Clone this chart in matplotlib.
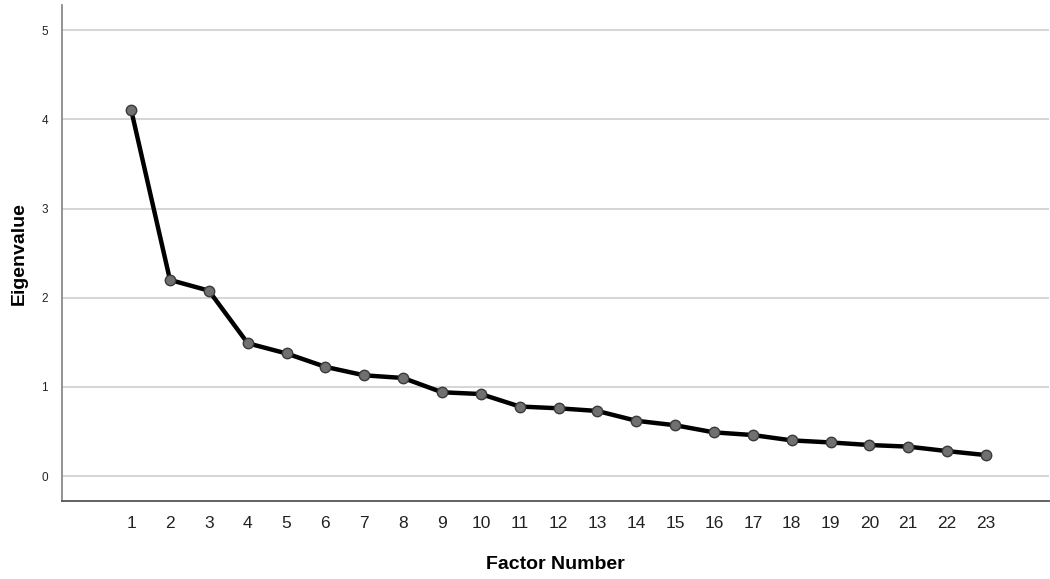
import matplotlib
matplotlib.use('Agg')
from matplotlib import pyplot as plt

plt.rcParams['font.family'] = ['Liberation Sans', 'DejaVu Sans']

# factores y sus valores propios
factores = list(range(1, 24))
eigen = [4.11, 2.20, 2.08, 1.49, 1.375, 1.225, 1.13, 1.10, 0.94, 0.92,
         0.78, 0.76, 0.73, 0.62, 0.57, 0.49, 0.46, 0.40, 0.377, 0.348,
         0.33, 0.28, 0.235]
yticks = [0, 1, 2, 3, 4, 5]

fig = plt.figure(figsize=(10.5, 5.79), dpi=100)
ax = fig.add_axes([0.059, 0.1347, 0.94, 0.856])

for y in yticks:
    ax.axhline(y, color='#d2d2d2', lw=1.3, zorder=1)

ax.plot(factores, eigen, color='black', lw=3.2, zorder=2,
        marker='o', markersize=7.5, markerfacecolor='#707070',
        markeredgecolor='#3a3a3a', markeredgewidth=1.0)

ax.set_xlim(-0.78, 24.62)
ax.set_ylim(-0.28, 5.28)
ax.set_xticks(factores)
ax.set_yticks(yticks)
ax.tick_params(axis='x', length=0, labelsize=12.5, pad=11, colors='#222222')
ax.tick_params(axis='y', length=0, labelsize=8.5, pad=10, colors='#222222')

for s in ['top', 'right']:
    ax.spines[s].set_visible(False)
ax.spines['left'].set_color('#8a8a8a')
ax.spines['bottom'].set_color('#555555')
ax.spines['left'].set_linewidth(1.3)
ax.spines['bottom'].set_linewidth(1.3)

ax.set_ylabel('Eigenvalue', fontsize=14, fontweight='bold', labelpad=10)
ax.set_xlabel('Factor Number', fontsize=14, fontweight='bold', labelpad=18)

fig.savefig('out.png', dpi=100)
